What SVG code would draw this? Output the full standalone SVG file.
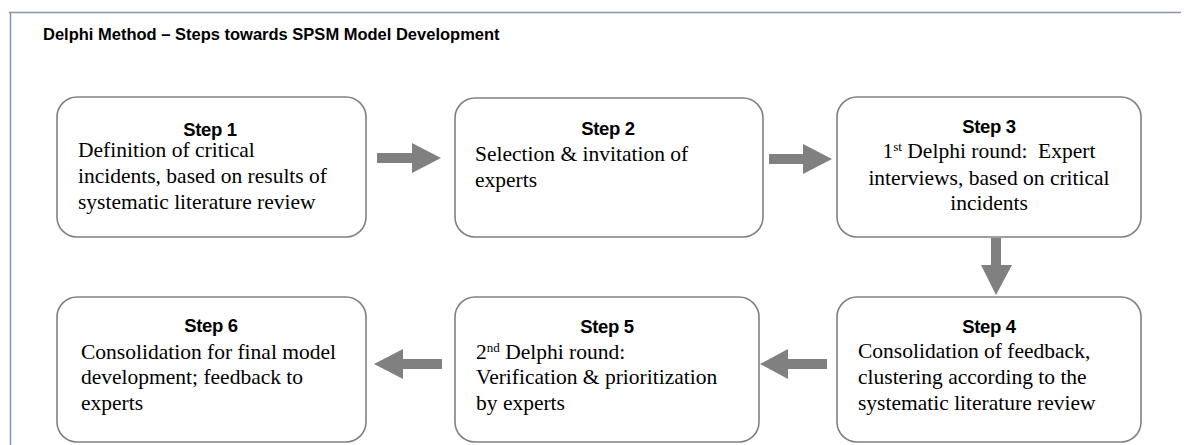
<svg xmlns="http://www.w3.org/2000/svg" width="1186" height="445" viewBox="0 0 1186 445">
  <style>
    .frame { fill: none; stroke: #8595ab; stroke-width: 1.5; }
    .box { fill: #ffffff; stroke: #808080; stroke-width: 1.6; }
    .title { font-family: "Liberation Sans", Arial, sans-serif; font-weight: bold; font-size: 16.5px; fill: #000; }
    .step { font-family: "Liberation Sans", Arial, sans-serif; font-weight: bold; font-size: 18.5px; fill: #000; text-anchor: middle; letter-spacing: -0.3px; }
    .body { font-family: "Liberation Serif", "Times New Roman", serif; font-size: 21.5px; fill: #000; white-space: pre; }
    .c { text-anchor: middle; }
    .sup { font-size: 13px; }
    .arrow { fill: #808080; }
  </style>

  <!-- outer frame: top and left edges -->
  <path class="frame" d="M9,12.5 H1181 M10.5,12 V445"/>

  <text class="title" x="43" y="40">Delphi Method – Steps towards SPSM Model Development</text>

  <!-- connectors -->
  <g id="connectors">
    <polygon class="arrow" points="377,153 412,153 412,143 441,158 412,173 412,163 377,163"/>
    <polygon class="arrow" points="769,154 803,154 803,144 832,159 803,174 803,164 769,164"/>
    <polygon class="arrow" points="991,238 1001,238 1001,265 1012,265 996,295 981,265 991,265"/>
    <polygon class="arrow" points="827,359 788,359 788,349 760,364 788,379 788,369 827,369"/>
    <polygon class="arrow" points="442,359 403,359 403,349 374,364 403,379 403,369 442,369"/>
  </g>

  <g id="step1">
    <rect class="box" x="57" y="97" width="309" height="140" rx="20"/>
    <text class="step" x="210" y="136">Step 1</text>
    <text class="body" x="78" y="157">Definition of critical</text>
    <text class="body" x="78" y="183">incidents, based on results of</text>
    <text class="body" x="78" y="208.5">systematic literature review</text>
  </g>

  <g id="step2">
    <rect class="box" x="455" y="98" width="308" height="139" rx="20"/>
    <text class="step" x="608" y="135">Step 2</text>
    <text class="body" x="475" y="161">Selection &amp; invitation of</text>
    <text class="body" x="475" y="187">experts</text>
  </g>

  <g id="step3">
    <rect class="box" x="837" y="97" width="304" height="140" rx="20"/>
    <text class="step" x="989" y="133">Step 3</text>
    <text class="body c" x="989" y="158">1<tspan class="sup" baseline-shift="super">st</tspan> Delphi round:  Expert</text>
    <text class="body c" x="989" y="185">interviews, based on critical</text>
    <text class="body c" x="989" y="210">incidents</text>
  </g>

  <g id="step4">
    <rect class="box" x="837" y="297" width="304" height="145" rx="20"/>
    <text class="step" x="989" y="333">Step 4</text>
    <text class="body" x="858" y="358">Consolidation of feedback,</text>
    <text class="body" x="858" y="384">clustering according to the</text>
    <text class="body" x="858" y="410">systematic literature review</text>
  </g>

  <g id="step5">
    <rect class="box" x="455" y="297" width="304" height="145" rx="20"/>
    <text class="step" x="607" y="333">Step 5</text>
    <text class="body" x="476" y="359">2<tspan class="sup" baseline-shift="super">nd</tspan> Delphi round:</text>
    <text class="body" x="476" y="384">Verification &amp; prioritization</text>
    <text class="body" x="476" y="410">by experts</text>
  </g>

  <g id="step6">
    <rect class="box" x="57" y="297" width="309" height="145" rx="20"/>
    <text class="step" x="211" y="332">Step 6</text>
    <text class="body" x="81" y="359">Consolidation for final model</text>
    <text class="body" x="81" y="384">development; feedback to</text>
    <text class="body" x="81" y="410">experts</text>
  </g>
</svg>
